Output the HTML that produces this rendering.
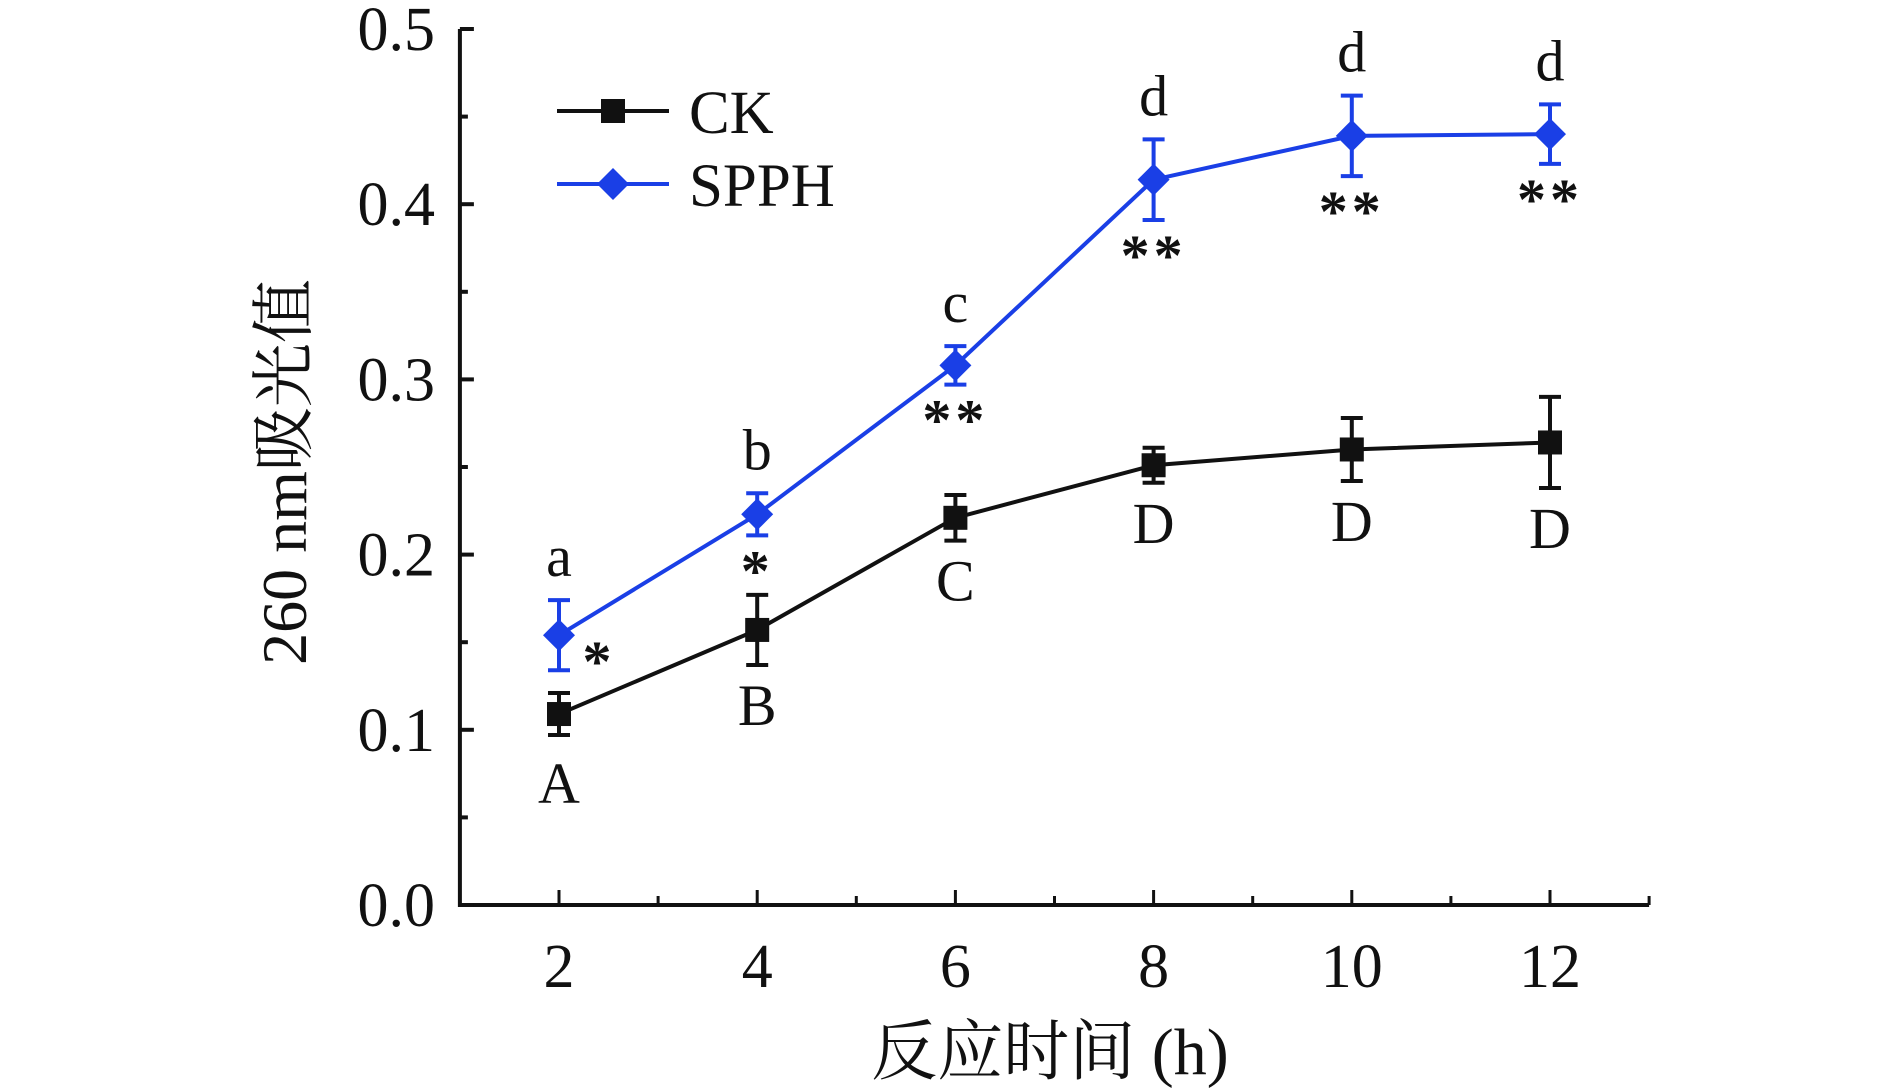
<!DOCTYPE html>
<html><head><meta charset="utf-8"><style>
html,body{margin:0;padding:0;background:#fff;}
svg{display:block;}
text{font-family:"Liberation Serif","Noto Serif CJK SC",serif;fill:#111;}
</style></head><body>
<svg id="chart" width="1890" height="1091" viewBox="0 0 1890 1091" xmlns="http://www.w3.org/2000/svg">
<g id="axes"></g>
<g id="marks"></g>
<g id="legend">
  <line x1="557" y1="111" x2="669" y2="111" stroke="#111" stroke-width="4"/>
  <rect x="601" y="99" width="24" height="24" fill="#111"/>
  <text x="689" y="133" font-size="61">CK</text>
  <line x1="557" y1="184" x2="669" y2="184" stroke="#1a3fe6" stroke-width="4"/>
  <polygon points="613,168 629,184 613,200 597,184" fill="#1a3fe6"/>
  <text x="689" y="206" font-size="61">SPPH</text>
</g>
<text x="1050" y="1074" font-size="66" text-anchor="middle">反应时间 (h)</text>
<text transform="translate(306,472) rotate(-90)" font-size="64" text-anchor="middle">260 nm吸光值</text>
</svg>
<script>
const hours = [2, 4, 6, 8, 10, 12];
const ckValues = [0.109, 0.157, 0.221, 0.251, 0.260, 0.264];
const ckErrors = [0.012, 0.020, 0.013, 0.010, 0.018, 0.026];
const spphValues = [0.154, 0.223, 0.308, 0.414, 0.439, 0.440];
const spphErrors = [0.020, 0.012, 0.011, 0.023, 0.023, 0.017];
const ckLetters = ["A", "B", "C", "D", "D", "D"];
const spphLetters = ["a", "b", "c", "d", "d", "d"];
const stars = ["*", "*", "**", "**", "**", "**"];
const yTicks = [0.0, 0.1, 0.2, 0.3, 0.4, 0.5];
const yTickLabels = ["0.0", "0.1", "0.2", "0.3", "0.4", "0.5"];
const xTicks = [2, 4, 6, 8, 10, 12];

const NS = "http://www.w3.org/2000/svg";
function X(h){ return 559 + (h - 2) * 99.1; }
function Y(v){ return 905 - v * 1752; }
function mk(parent, tag, attrs, txt){
  const e = document.createElementNS(NS, tag);
  for (const k in attrs) e.setAttribute(k, attrs[k]);
  if (txt !== undefined) e.textContent = txt;
  parent.appendChild(e); return e;
}
const axes = document.getElementById('axes');
const marks = document.getElementById('marks');
const yAxis = mk(axes, 'path', {d:`M${X(1)} ${Y(0.5)} L${X(1)} ${Y(0)} L${X(13)} ${Y(0)}`, fill:'none', stroke:'#111', 'stroke-width':4});


for (let i = 0; i < 11; i++) {
  const v = i * 0.05;
  const major = i % 2 === 0;
  mk(axes, 'line', {x1:X(1), x2:X(1) + (major ? 14 : 8), y1:Y(v), y2:Y(v), stroke:'#111', 'stroke-width':4});
}
yTicks.forEach((v, i) => {
  const t = mk(axes, 'text', {x:435, y:Y(v) + 21, 'font-size':62, 'text-anchor':'end'}, yTickLabels[i]);
  
  
});
for (let h = 1; h <= 13; h++) {
  const major = h % 2 === 0;
  mk(axes, 'line', {x1:X(h), x2:X(h), y1:Y(0), y2:Y(0) - (major ? 15 : 9), stroke:'#111', 'stroke-width':3});
}
xTicks.forEach(h => {
  const t = mk(axes, 'text', {x:X(h), y:987, 'font-size':62, 'text-anchor':'middle'}, String(h));
  
  
});

function series(vals, errs, color, name, diamond){
  const g = mk(marks, 'g', {});
  
  
  const pl = mk(g, 'polyline', {points: hours.map((h, i) => X(h) + ',' + Y(vals[i])).join(' '), fill:'none', stroke:color, 'stroke-width':4});
  
  
  hours.forEach((h, i) => {
    const x = X(h), top = Y(vals[i] + errs[i]), bot = Y(vals[i] - errs[i]);
    const eb = mk(g, 'path', {d:`M${x} ${top} L${x} ${bot} M${x-11} ${top} L${x+11} ${top} M${x-11} ${bot} L${x+11} ${bot}`, stroke:color, 'stroke-width':4, fill:'none'});
    
    
    const y = Y(vals[i]);
    let m;
    if (diamond) m = mk(g, 'polygon', {points:`${x},${y-16} ${x+16},${y} ${x},${y+16} ${x-16},${y}`, fill:color});
    else m = mk(g, 'rect', {x:x-12, y:y-12, width:24, height:24, fill:color});
    
    
  });
}
series(ckValues, ckErrors, '#111', 'ck', false);
series(spphValues, spphErrors, '#1a3fe6', 'spph', true);

hours.forEach((h, i) => {
  const x = X(h);
  const a = mk(marks, 'text', {x:x, y:Y(spphValues[i] + spphErrors[i]) - 24, 'font-size':58, 'text-anchor':'middle'}, spphLetters[i]);
  
  
  const b = mk(marks, 'text', {x:x, y:Y(ckValues[i] - ckErrors[i]) + (i === 0 ? 68 : 60), 'font-size':58, 'text-anchor':'middle'}, ckLetters[i]);
  
  
  let sx = x, sy = Y(spphValues[i] - spphErrors[i]) + 55;
  if (i === 0) { sx = x + 40; sy = Y(spphValues[i]) + 46; }
  const s = mk(marks, 'text', {x:sx, y:sy, 'font-size':58, 'text-anchor':'middle', 'font-weight':'bold', 'letter-spacing':'4'}, stars[i]);
  
  
});
</script>
</body></html>
